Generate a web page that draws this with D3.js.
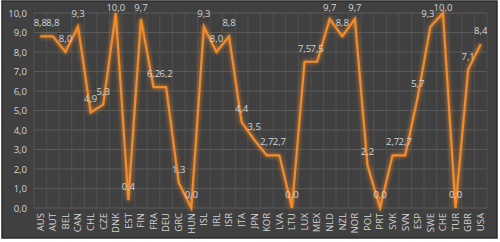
<!DOCTYPE html>
<html><head><meta charset="utf-8">
<script src="https://cdn.jsdelivr.net/npm/d3@7"></script>
<style>body{margin:0;background:#fff;}svg{display:block;}</style>
</head><body>
<script>
const categories = ["AUS","AUT","BEL","CAN","CHL","CZE","DNK","EST","FIN","FRA","DEU","GRC","HUN","ISL","IRL","ISR","ITA","JPN","KOR","LVA","LTU","LUX","MEX","NLD","NZL","NOR","POL","PRT","SVK","SVN","ESP","SWE","CHE","TUR","GBR","USA"];
const values = [8.8,8.8,8.0,9.3,4.9,5.3,10.0,0.4,9.7,6.2,6.2,1.3,0.0,9.3,8.0,8.8,4.4,3.5,2.7,2.7,0.0,7.5,7.5,9.7,8.8,9.7,2.2,0.0,2.7,2.7,5.7,9.3,10.0,0.0,7.1,8.4];
const yTicks = [0,1,2,3,4,5,6,7,8,9,10];

const W = 500, H = 242;
const svg = d3.select("body").append("svg").attr("width", W).attr("height", H);
const defs = svg.append("defs");
const f = defs.append("filter").attr("id","glow").attr("x","-20%").attr("y","-20%").attr("width","140%").attr("height","140%");
f.append("feGaussianBlur").attr("in","SourceGraphic").attr("stdDeviation",2.2).attr("result","b");
const m = f.append("feMerge");
m.append("feMergeNode").attr("in","b");
m.append("feMergeNode").attr("in","SourceGraphic");

svg.append("rect").attr("x",2).attr("y",1).attr("width",495).attr("height",237)
  .attr("fill","#404040").attr("stroke","#2a2a2a").attr("stroke-width",1.5);

const x = d3.scaleBand().domain(categories).range([34, 487]);
const y = d3.scaleLinear().domain([0,10]).range([208, 13]);
const fmt = v => d3.format(".1f")(v).replace(".", ",");
const font = "'Open Sans', sans-serif";

// grid
const g = svg.append("g");
g.selectAll(".hg").data(yTicks).join("line")
  .attr("x1", 34).attr("x2", 487).attr("y1", d=>y(d)).attr("y2", d=>y(d))
  .attr("stroke","#5a5a5a").attr("stroke-width",1);
const vb = categories.map(c => x(c)).concat([x.range()[1]]);
g.selectAll(".vg").data(vb).join("line")
  .attr("x1", d=>d).attr("x2", d=>d).attr("y1", y(10)).attr("y2", y(0))
  .attr("stroke","#555").attr("stroke-width",0.8);

// y axis
const ya = svg.append("g").attr("transform","translate(27,0)")
  .call(d3.axisLeft(y).tickValues(yTicks).tickFormat(fmt).tickSize(0).tickPadding(0));
ya.select(".domain").remove();
ya.selectAll("text").attr("fill","#d4d4d4").style("font-family",font).style("font-size","9.5px");

// x axis
const xa = svg.append("g").attr("transform", `translate(0,${y(0)+5})`)
  .call(d3.axisBottom(x).tickSize(0).tickPadding(0));
xa.select(".domain").remove();
xa.selectAll(".tick text")
  .attr("fill","#d4d4d4").style("font-family",font).style("font-size","9.5px")
  .attr("transform","rotate(-90)")
  .attr("x", 0).attr("y", 0).attr("dy","0.35em")
  .attr("text-anchor","end");

// line
const line = d3.line().x((d,i)=>x(categories[i]) + x.bandwidth()/2).y(d=>y(d));
svg.append("path").datum(values).attr("d", line).attr("fill","none")
  .attr("stroke","#f08b2e").attr("stroke-width",2.2).attr("stroke-linejoin","miter").attr("filter","url(#glow)");

// labels (nudge a label left when the next one sits at the clamped top and would collide)
const ly = d => Math.max(11, y(d) - 10);
svg.append("g").selectAll("text").data(values).join("text")
  .attr("x",(d,i)=>{
    let cx = x(categories[i]) + x.bandwidth()/2;
    const nxt = values[i+1];
    if (nxt !== undefined && Math.abs(ly(nxt) - ly(d)) < 9 && ly(nxt) < ly(d) && nxt >= 10) cx -= 2.5;
    return cx;
  })
  .attr("y", d=>ly(d))
  .attr("text-anchor","middle")
  .attr("fill","#d4d4d4").style("font-family",font).style("font-size","9.5px")
  .text(d=>fmt(d));
</script>
</body></html>
